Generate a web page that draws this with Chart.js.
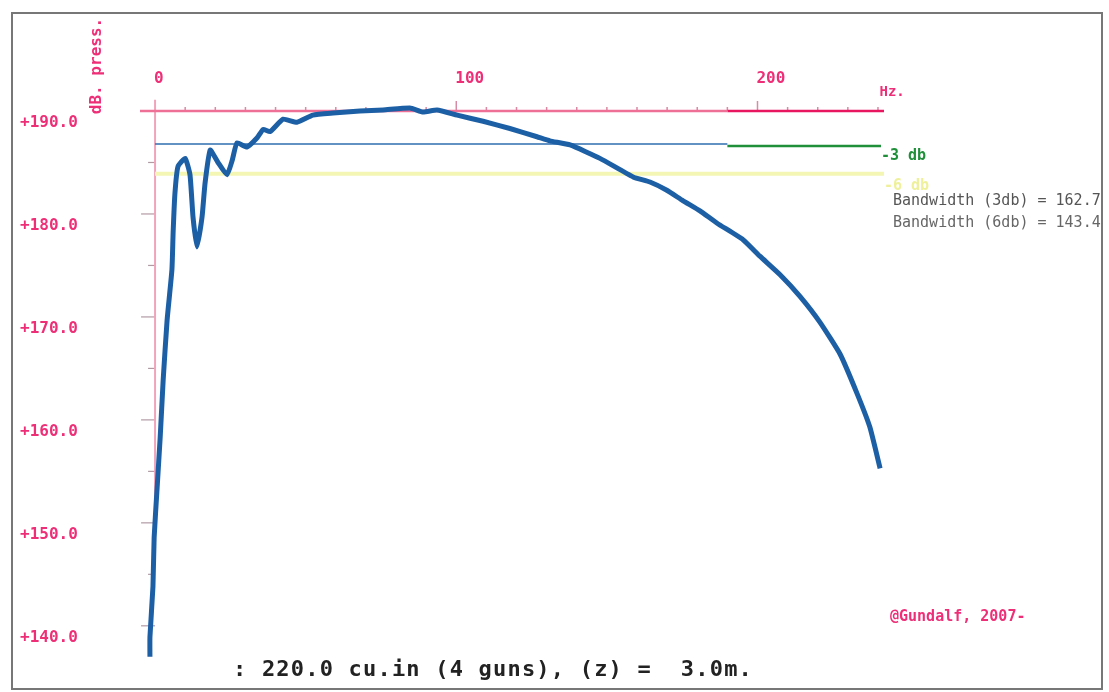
<!DOCTYPE html>
<html>
<head>
<meta charset="utf-8">
<script src="https://cdn.jsdelivr.net/npm/chart.js@4/dist/chart.umd.min.js"></script>
<style>
body{margin:0;background:#fff;}
canvas{display:block;}
</style>
</head>
<body>
<canvas id="chart" width="1109" height="692"></canvas>
<script>
// spectrum (Hz, dB)
const freq=[-1.7,-1.7,-0.7,-0.3,0.7,1.7,2.7,4.0,5.6,6.0,6.6,7.6,10.0,11.6,12.6,13.9,15.6,16.6,18.3,20.9,23.9,25.6,27.2,30.5,33.9,35.9,38.2,42.5,47.1,52.4,59.1,68.0,75.7,84.6,89.0,93.6,100.3,108.9,117.8,126.8,131.1,137.8,147.7,158.7,164.3,169.9,175.2,180.9,186.6,195.2,200.8,207.5,214.1,220.7,227.4,233.0,237.3,240.7];
const level=[137.0,138.9,143.8,148.6,153.5,158.3,163.9,169.7,174.6,178.2,182.0,184.6,185.4,183.8,179.7,176.8,179.7,183.0,186.2,185.0,183.8,185.2,186.9,186.5,187.4,188.2,188.0,189.2,188.9,189.6,189.8,190.0,190.1,190.3,189.9,190.1,189.6,189.0,188.3,187.5,187.1,186.7,185.4,183.6,183.1,182.3,181.3,180.3,179.1,177.5,175.9,174.1,172.0,169.5,166.4,162.6,159.3,155.3];

const xTicks=[0,100,200];
const yTicks=[190,180,170,160,150,140];
const minus3=186.8;
const minus6=183.9;
const bw3="162.7";
const bw6="143.4";

const pink="#ee2f77";
const mono="'DejaVu Sans Mono', monospace";

const curve=freq.map((f,i)=>({x:f,y:level[i]}));

const decor={
id:"decor",
beforeDatasetsDraw(chart){
const ctx=chart.ctx;
const xs=chart.scales.x, ys=chart.scales.y;
ctx.save();
// top axis minor ticks every 10 Hz
ctx.strokeStyle="#d98aa4";
ctx.lineWidth=1.5;
for(let f=10;f<=240;f+=10){
const px=xs.getPixelForValue(f);
const py=ys.getPixelForValue(190);
const len=(f%100===0)?10:4;
ctx.beginPath();
ctx.moveTo(px,py);
ctx.lineTo(px,py-len);
ctx.stroke();
}
// left axis ticks every 5 dB
ctx.strokeStyle="#b29aa4";
ctx.lineWidth=1.2;
for(let v=190;v>=140;v-=5){
const py=ys.getPixelForValue(v);
const px=xs.getPixelForValue(0);
const len=(v%10===0)?14:7;
ctx.beginPath();
ctx.moveTo(px-len,py);
ctx.lineTo(px,py);
ctx.stroke();
}
ctx.restore();
},
afterDraw(chart){
const ctx=chart.ctx;
const xs=chart.scales.x, ys=chart.scales.y;
ctx.save();
// frame
ctx.strokeStyle="#777";
ctx.lineWidth=2;
ctx.strokeRect(12,13,1090,676);

ctx.textBaseline="middle";
ctx.textAlign="left";

ctx.fillStyle=pink;
ctx.font="bold 14px "+mono;
ctx.fillText("Hz.",xs.getPixelForValue(240.5),92);

ctx.fillStyle="#1f8f3a";
ctx.font="bold 15px "+mono;
ctx.fillText("-3 db",xs.getPixelForValue(241),ys.getPixelForValue(minus3)+12);

ctx.fillStyle="#eef19a";
ctx.fillText("-6 db",xs.getPixelForValue(242),ys.getPixelForValue(minus6)+12);

ctx.font="15px "+mono;
ctx.fillStyle="#555";
ctx.fillText("Bandwidth (3db) = "+bw3,893,201);
ctx.fillStyle="#666";
ctx.fillText("Bandwidth (6db) = "+bw6,893,223);

ctx.fillStyle=pink;
ctx.font="bold 15px "+mono;
ctx.fillText("@Gundalf, 2007-",890,617);

ctx.fillStyle="#222";
ctx.font="bold 22px "+mono;
ctx.letterSpacing="1.2px";
ctx.fillText(": 220.0 cu.in (4 guns), (z) =  3.0m.",233,670);
ctx.letterSpacing="0px";

// rotated y title
ctx.translate(97,66);
ctx.rotate(-Math.PI/2);
ctx.textAlign="center";
ctx.fillStyle=pink;
ctx.font="bold 16px "+mono;
ctx.fillText("dB. press.",0,0);
ctx.restore();
}
};

new Chart(document.getElementById("chart"),{
type:"line",
data:{
datasets:[
{data:curve,borderColor:"#1d5fa5",borderWidth:5,tension:0.15,pointRadius:0,clip:false},
{data:[{x:0,y:minus3},{x:190,y:minus3}],borderColor:"#2e6db0",borderWidth:1.5,pointRadius:0,clip:false},
{data:[{x:190,y:minus3-0.2},{x:241,y:minus3-0.2}],borderColor:"#1f8f3a",borderWidth:2.5,pointRadius:0,clip:false},
{data:[{x:0,y:minus6},{x:242,y:minus6}],borderColor:"#f4f6b4",borderWidth:4,pointRadius:0,clip:false},
{data:[{x:-5,y:190},{x:190,y:190}],borderColor:"#ef7097",borderWidth:2.5,pointRadius:0,clip:false},
{data:[{x:190,y:190},{x:242,y:190}],borderColor:"#e8155f",borderWidth:2.5,pointRadius:0,clip:false},
{data:[{x:0,y:191.1},{x:0,y:148.8}],borderColor:"#f2a3bb",borderWidth:2,pointRadius:0,clip:false}
]
},
options:{
responsive:false,
animation:false,
layout:{padding:{left:20,right:225,top:0,bottom:25}},
plugins:{legend:{display:false},tooltip:{enabled:false}},
scales:{
x:{
type:"linear",
position:"top",
min:-5,
max:242,
afterFit:s=>{s.height=111;},
afterBuildTicks:s=>{s.ticks=xTicks.map(v=>({value:v}));},
grid:{display:false,drawTicks:false},
border:{display:false},
ticks:{
align:"start",
autoSkip:false,
maxRotation:0,
padding:23,
labelOffset:-1,
color:pink,
font:{family:mono,size:16,weight:"bold"}
}
},
y:{
min:136,
max:190,
afterFit:s=>{s.width=120;},
afterBuildTicks:s=>{s.ticks=yTicks.map(v=>({value:v}));},
grid:{display:false,drawTicks:false},
border:{display:false},
ticks:{
crossAlign:"far",
labelOffset:12,
color:pink,
callback:v=>"+"+v.toFixed(1),
font:{family:mono,size:16,weight:"bold"}
}
}
}
},
plugins:[decor]
});
</script>
</body>
</html>
